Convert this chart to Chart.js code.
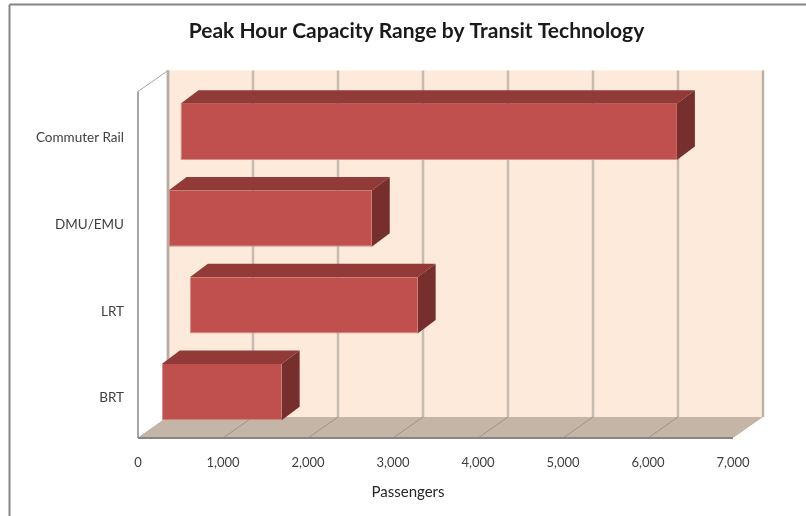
<!DOCTYPE html>
<html>
<head>
<meta charset="utf-8">
<title>Peak Hour Capacity Range</title>
<script src="https://cdn.jsdelivr.net/npm/chart.js@4"></script>
<style>
  html, body { margin: 0; padding: 0; background: #fff; }
  #wrap { width: 806px; height: 516px; }
</style>
</head>
<body>
<div id="wrap"><canvas id="capacityChart" width="806" height="516"></canvas></div>
<script>
const categories = ["Commuter Rail", "DMU/EMU", "LRT", "BRT"];
const rangeLow   = [500, 360, 610, 280];
const rangeHigh  = [6340, 2750, 3290, 1690];
const xTicks     = [0, 1000, 2000, 3000, 4000, 5000, 6000, 7000];
const chartTitle = "Peak Hour Capacity Range by Transit Technology";
const xTitle     = "Passengers";

const FONT = "Lato, 'Open Sans', sans-serif";
const TEXT = "#404040";

function poly(ctx, pts, fill) {
  ctx.beginPath();
  pts.forEach((p, i) => i ? ctx.lineTo(p[0], p[1]) : ctx.moveTo(p[0], p[1]));
  ctx.closePath();
  ctx.fillStyle = fill;
  ctx.fill();
}

function line(ctx, x1, y1, x2, y2, color, width) {
  ctx.beginPath();
  ctx.moveTo(x1, y1);
  ctx.lineTo(x2, y2);
  ctx.strokeStyle = color;
  ctx.lineWidth = width;
  ctx.stroke();
}

// Fake 3D box: back wall, side wall, floor, then the top and side of each bar.
const box3d = {
  id: "box3d",
  afterLayout(chart) {
    // centre the title over the whole frame rather than the plot area
    chart.titleBlock.left += 50;
    chart.titleBlock.right += 50;
  },
  beforeDatasetsDraw(chart) {
    const { ctx, chartArea: area, scales: { x } } = chart;
    const wallDx = 30, wallDy = -21;
    const barDx = 18, barDy = -13.5;
    const floorY = area.bottom + 2.5;
    const topY = area.top + 3;
    const left = x.getPixelForValue(0);
    const right = x.getPixelForValue(7000);

    ctx.save();

    // outer frame, top and left only
    line(ctx, 9.5, 516, 9.5, 4.5, "#868686", 2);
    line(ctx, 9.5, 4.5, 806, 4.5, "#868686", 2);

    poly(ctx, [[left + wallDx, topY + wallDy], [right + wallDx, topY + wallDy],
               [right + wallDx, floorY + wallDy], [left + wallDx, floorY + wallDy]], "#FDEADA");
    poly(ctx, [[left, floorY], [right, floorY], [right + wallDx, floorY + wallDy],
               [left + wallDx, floorY + wallDy]], "#C4B5A6");

    // grid lines run up the back wall and across the floor
    xTicks.forEach((t) => {
      const px = x.getPixelForValue(t);
      line(ctx, px + wallDx, topY + wallDy, px + wallDx, floorY + wallDy, "#C6BCB0", 2.5);
      if (t > 0 && t < 7000) line(ctx, px, floorY, px + wallDx, floorY + wallDy, "#9C948A", 1);
    });
    line(ctx, left + wallDx, topY + wallDy, left + wallDx, floorY + wallDy, "#B4AEA6", 2.5);
    line(ctx, right + wallDx, topY + wallDy, right + wallDx, floorY + wallDy, "#B8B2AA", 2);

    // side wall
    line(ctx, left, topY, left, floorY, "#A6A6A6", 2);
    line(ctx, left, topY, left + wallDx, topY + wallDy, "#A6A6A6", 1);
    line(ctx, left, floorY, left + wallDx, floorY + wallDy, "#B8B2AA", 1);
    line(ctx, left, floorY, right, floorY, "#868686", 2);

    // bar top and right faces
    chart.getDatasetMeta(0).data.forEach((bar) => {
      const l = Math.min(bar.x, bar.base), r = Math.max(bar.x, bar.base);
      const t = bar.y - bar.height / 2, b = bar.y + bar.height / 2;
      poly(ctx, [[l, t], [r, t], [r + barDx, t + barDy], [l + barDx, t + barDy]], "#923A38");
      poly(ctx, [[r, t], [r + barDx, t + barDy], [r + barDx, b + barDy], [r, b]], "#772F2D");
    });

    // axis title sits left of the plot centre
    ctx.fillStyle = "#262626";
    ctx.font = "15px " + FONT;
    ctx.textAlign = "center";
    ctx.textBaseline = "middle";
    ctx.fillText(xTitle, 408, 492);

    ctx.restore();
  }
};

new Chart(document.getElementById("capacityChart"), {
  type: "bar",
  data: {
    labels: categories,
    datasets: [{
      data: categories.map((_, i) => [rangeLow[i], rangeHigh[i]]),
      backgroundColor: "#C0504D",
      borderColor: "#D48F8C",
      borderWidth: { left: 1, bottom: 1, right: 0, top: 0 },
      borderSkipped: false,
      categoryPercentage: 1,
      barPercentage: 0.646
    }]
  },
  options: {
    indexAxis: "y",
    responsive: false,
    animation: false,
    layout: { padding: { left: 0, right: 73, top: 0, bottom: 0 } },
    plugins: {
      legend: { display: false },
      tooltip: { enabled: false },
      title: {
        display: true,
        text: chartTitle,
        color: "#1A1A1A",
        font: { family: FONT, size: 21, weight: "bold", lineHeight: 1.2 },
        padding: { top: 18.4, bottom: 44.9 }
      }
    },
    scales: {
      x: {
        min: 0,
        max: 7000,
        afterFit(axis) { axis.height = 80.5; },
        afterBuildTicks(axis) { axis.ticks = xTicks.map((value) => ({ value })); },
        grid: { display: false, drawTicks: false },
        border: { display: false },
        ticks: {
          padding: 19.5,
          color: TEXT,
          font: { family: FONT, size: 13 },
          maxRotation: 0,
          callback: (v) => Number(v).toLocaleString("en-US")
        }
      },
      y: {
        afterFit(axis) { axis.width = 138; },
        grid: { display: false, drawTicks: false },
        border: { display: false },
        ticks: {
          padding: 14,
          labelOffset: 6,
          color: TEXT,
          font: { family: FONT, size: 13.5 }
        }
      }
    }
  },
  plugins: [box3d]
});
</script>
</body>
</html>
